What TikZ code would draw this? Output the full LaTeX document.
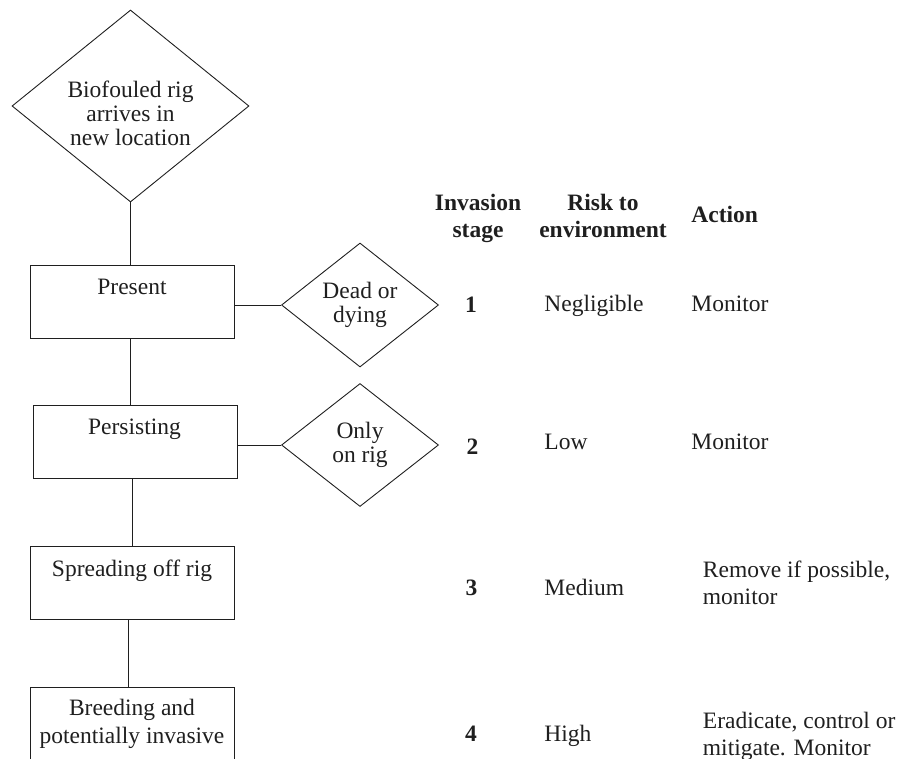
\documentclass[tikz,border=0pt]{standalone}
\usepackage{fontspec}
\setmainfont{Liberation Serif}
\usetikzlibrary{shapes.geometric}
\begin{document}
\begin{tikzpicture}[x=1pt,y=-1pt, line width=0.9pt, color={black!88},
  every node/.style={font=\fontsize{23.5}{25}\selectfont},
  stagebox/.style={draw, rectangle, minimum width=204pt, minimum height=73pt, inner sep=0pt},
  choice/.style={draw, diamond, inner sep=0pt, align=center, font=\fontsize{23.5}{24}\selectfont},
  txt/.style={inner sep=0pt, align=center, anchor=base, font=\fontsize{23.5}{28}\selectfont},
  hdr/.style={inner sep=0pt, align=center, font=\fontsize{23.5}{27}\selectfont\bfseries},
  num/.style={inner sep=0pt, anchor=base, font=\fontsize{23.5}{27}\selectfont\bfseries},
  cell/.style={inner sep=0pt, anchor=base west, align=left, font=\fontsize{23.5}{26.5}\selectfont}]
\useasboundingbox (0,0) rectangle (901,758);
\clip (0,0) rectangle (901,758);

% flow chart
\node[choice, aspect=1.234, minimum width=237pt, minimum height=192pt] (arrive) at (130.5,106) {};
\node[txt, font=\fontsize{23.5}{23.8}\selectfont] (arrive-t) at (130.5,145.5) {Biofouled rig\\arrives in\\new location};

\node[stagebox] (present) at (132,301.5) {};
\node[stagebox] (persist) at (135,442) {};
\node[stagebox] (spread) at (132,582.5) {};
\node[stagebox, minimum height=100pt, anchor=north] (breed) at (132,687) {};

\node[txt] (present-t) at (132,294) {Present};
\node[txt] (persist-t) at (134.5,434) {Persisting};
\node[txt] (spread-t) at (132,576) {Spreading off rig};
\node[txt] (breed-t) at (132,743) {Breeding and\\potentially invasive};

\node[choice, aspect=1.27, minimum width=157pt, minimum height=124pt] (dead) at (360,305) {Dead or\\dying};
\node[choice, aspect=1.27, minimum width=157pt, minimum height=123pt] (only) at (360,445) {Only\\on rig};

\draw (arrive.south) -- (arrive.south |- present.north);
\draw (arrive.south |- present.south) -- (arrive.south |- persist.north);
\draw ([xshift=-3pt]persist.south) -- ([xshift=-3pt]persist.south |- spread.north);
\draw ([xshift=-4pt]spread.south) -- ([xshift=-4pt]spread.south |- breed.north);
\draw (dead.west -| present.east) -- (dead.west);
\draw (only.west -| persist.east) -- (only.west);

% table
\node[hdr, anchor=base] (h1) at (478,237) {Invasion\\stage};
\node[hdr, anchor=base] (h2) at (603,237) {Risk to\\environment};
\node[hdr, anchor=base west] (h3) at (691,222) {Action};

\node[num] (n1) at (471,312.5) {1};
\node[num] (n2) at (472.5,454) {2};
\node[num] (n3) at (471.5,595) {3};
\node[num] (n4) at (471,741.5) {4};

\node[cell] (r1) at (544,311.5) {Negligible};
\node[cell] (r2) at (544,449) {Low};
\node[cell] (r3) at (544,595) {Medium};
\node[cell] (r4) at (544,741.5) {High};

\node[cell] (a1) at (691,311) {Monitor};
\node[cell] (a2) at (691,449) {Monitor};
\node[cell] (a3) at (702.5,604) {Remove if possible,\\monitor};
\node[cell] (a4) at (702.5,755) {Eradicate, control or\\mitigate. Monitor};
\end{tikzpicture}
\end{document}
